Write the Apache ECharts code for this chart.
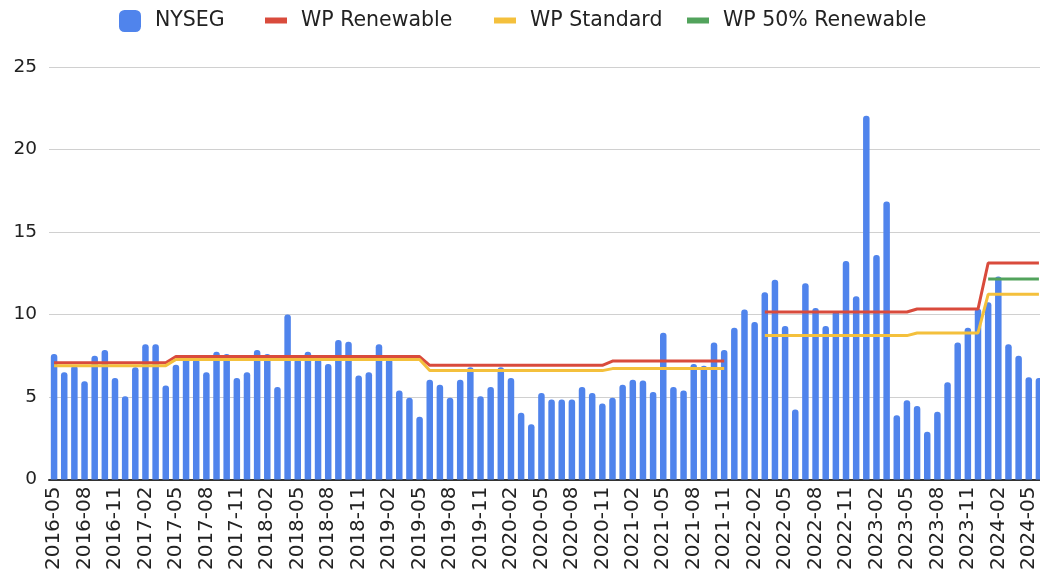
<!DOCTYPE html>
<html>
<head>
<meta charset="utf-8">
<script src="https://cdn.jsdelivr.net/npm/echarts@6/dist/echarts.min.js"></script>
<style>
html,body{margin:0;padding:0;background:#fff;}
#chart{width:1040px;height:574px;}
</style>
</head>
<body>
<div id="chart"></div>
<script>
// Categories: monthly, 2016-05 .. 2024-06
const months = [
  '2016-05','2016-06','2016-07','2016-08','2016-09','2016-10','2016-11','2016-12',
  '2017-01','2017-02','2017-03','2017-04','2017-05','2017-06','2017-07','2017-08','2017-09','2017-10','2017-11','2017-12',
  '2018-01','2018-02','2018-03','2018-04','2018-05','2018-06','2018-07','2018-08','2018-09','2018-10','2018-11','2018-12',
  '2019-01','2019-02','2019-03','2019-04','2019-05','2019-06','2019-07','2019-08','2019-09','2019-10','2019-11','2019-12',
  '2020-01','2020-02','2020-03','2020-04','2020-05','2020-06','2020-07','2020-08','2020-09','2020-10','2020-11','2020-12',
  '2021-01','2021-02','2021-03','2021-04','2021-05','2021-06','2021-07','2021-08','2021-09','2021-10','2021-11','2021-12',
  '2022-01','2022-02','2022-03','2022-04','2022-05','2022-06','2022-07','2022-08','2022-09','2022-10','2022-11','2022-12',
  '2023-01','2023-02','2023-03','2023-04','2023-05','2023-06','2023-07','2023-08','2023-09','2023-10','2023-11','2023-12',
  '2024-01','2024-02','2024-03','2024-04','2024-05','2024-06'
];

const nyseg = [
  7.6, 6.5, 6.9, 5.95, 7.5, 7.85, 6.15, 5.05,
  6.8, 8.2, 8.2, 5.7, 6.95, 7.5, 7.3, 6.5, 7.75, 7.6, 6.15, 6.5,
  7.85, 7.6, 5.6, 10.0, 7.3, 7.75, 7.3, 7.0, 8.45, 8.35, 6.3, 6.5,
  8.2, 7.3, 5.4, 4.95, 3.8, 6.05, 5.75, 4.95, 6.05, 6.8, 5.05, 5.6,
  6.8, 6.15, 4.05, 3.35, 5.25, 4.85, 4.85, 4.85, 5.6, 5.25, 4.6, 4.95,
  5.75, 6.05, 6.0, 5.3, 8.9, 5.6, 5.4, 7.0, 6.9, 8.3, 7.85, 9.2,
  10.3, 9.55, 11.35, 12.1, 9.3, 4.25, 11.9, 10.4, 9.3, 10.2, 13.25, 11.1,
  22.05, 13.6, 16.85, 3.9, 4.8, 4.45, 2.9, 4.1, 5.9, 8.3, 9.2, 10.35,
  10.75, 12.3, 8.2, 7.5, 6.2, 6.15
];

const wpRenewable = [
  7.07, 7.07, 7.07, 7.07, 7.07, 7.07, 7.07, 7.07,
  7.07, 7.07, 7.07, 7.07, 7.45, 7.45, 7.45, 7.45, 7.45, 7.45, 7.45, 7.45,
  7.45, 7.45, 7.45, 7.45, 7.45, 7.45, 7.45, 7.45, 7.45, 7.45, 7.45, 7.45,
  7.45, 7.45, 7.45, 7.45, 7.45, 6.92, 6.92, 6.92, 6.92, 6.92, 6.92, 6.92,
  6.92, 6.92, 6.92, 6.92, 6.92, 6.92, 6.92, 6.92, 6.92, 6.92, 6.92, 7.18,
  7.18, 7.18, 7.18, 7.18, 7.18, 7.18, 7.18, 7.18, 7.18, 7.18, 7.18, null,
  null, null, 10.15, 10.15, 10.15, 10.15, 10.15, 10.15, 10.15, 10.15, 10.15, 10.15,
  10.15, 10.15, 10.15, 10.15, 10.15, 10.33, 10.33, 10.33, 10.33, 10.33, 10.33, 10.33,
  13.12, 13.12, 13.12, 13.12, 13.12, 13.12
];

const wpStandard = [
  6.9, 6.9, 6.9, 6.9, 6.9, 6.9, 6.9, 6.9,
  6.9, 6.9, 6.9, 6.9, 7.27, 7.27, 7.27, 7.27, 7.27, 7.27, 7.27, 7.27,
  7.27, 7.27, 7.27, 7.27, 7.27, 7.27, 7.27, 7.27, 7.27, 7.27, 7.27, 7.27,
  7.27, 7.27, 7.27, 7.27, 7.27, 6.6, 6.6, 6.6, 6.6, 6.6, 6.6, 6.6,
  6.6, 6.6, 6.6, 6.6, 6.6, 6.6, 6.6, 6.6, 6.6, 6.6, 6.6, 6.72,
  6.72, 6.72, 6.72, 6.72, 6.72, 6.72, 6.72, 6.72, 6.72, 6.72, 6.72, null,
  null, null, 8.72, 8.72, 8.72, 8.72, 8.72, 8.72, 8.72, 8.72, 8.72, 8.72,
  8.72, 8.72, 8.72, 8.72, 8.72, 8.88, 8.88, 8.88, 8.88, 8.88, 8.88, 8.88,
  11.22, 11.22, 11.22, 11.22, 11.22, 11.22
];

const wp50Renewable = [
  null, null, null, null, null, null, null, null,
  null, null, null, null, null, null, null, null, null, null, null, null,
  null, null, null, null, null, null, null, null, null, null, null, null,
  null, null, null, null, null, null, null, null, null, null, null, null,
  null, null, null, null, null, null, null, null, null, null, null, null,
  null, null, null, null, null, null, null, null, null, null, null, null,
  null, null, null, null, null, null, null, null, null, null, null, null,
  null, null, null, null, null, null, null, null, null, null, null, null,
  12.15, 12.15, 12.15, 12.15, 12.15, 12.15
];

const yTicks = [0, 5, 10, 15, 20, 25];

const FONT = 'DejaVu Sans';
const TXT = '#222';
const C_BLUE = '#5084ec', C_RED = '#d94b3c', C_YEL = '#f4c03c', C_GRN = '#52a35c';

const chart = echarts.init(document.getElementById('chart'), null, {renderer: 'canvas'});

function lg(name, left, icon, h) {
  return {
    data: [name], left: left, top: 10, padding: 0,
    itemWidth: 22, itemHeight: h, icon: icon,
    textStyle: {fontFamily: FONT, fontSize: 20.5, color: TXT, padding: [2, 0, 0, 9]}
  };
}

chart.setOption({
  animation: false,
  backgroundColor: '#fff',
  legend: [
    lg('NYSEG', 119, 'roundRect', 22),
    lg('WP Renewable', 265, 'rect', 6),
    lg('WP Standard', 494, 'rect', 6),
    lg('WP 50% Renewable', 687, 'rect', 6)
  ],
  grid: {left: 49, top: 67, width: 995, height: 412.5, containLabel: false, outerBoundsMode: 'none'},
  xAxis: {
    type: 'category',
    data: months,
    boundaryGap: true,
    axisLine: {show: true, lineStyle: {color: '#333', width: 2}},
    axisTick: {show: false},
    axisLabel: {
      interval: 2, rotate: 90, margin: 7,
      fontFamily: FONT, fontSize: 20, color: TXT
    }
  },
  yAxis: {
    type: 'value',
    min: yTicks[0], max: yTicks[yTicks.length - 1], interval: 5,
    axisLine: {show: false},
    axisTick: {show: false},
    splitLine: {lineStyle: {color: '#d0d0d0', width: 1}},
    axisLabel: {margin: 12, fontFamily: FONT, fontSize: 18.5, color: TXT}
  },
  series: [
    {
      name: 'NYSEG', type: 'bar', data: nyseg,
      barWidth: 6.5,
      itemStyle: {color: C_BLUE, borderRadius: [3, 3, 0, 0]}
    },
    {
      name: 'WP Renewable', type: 'line', data: wpRenewable,
      showSymbol: false, symbol: 'none', connectNulls: false,
      lineStyle: {color: C_RED, width: 3}, itemStyle: {color: C_RED}
    },
    {
      name: 'WP Standard', type: 'line', data: wpStandard,
      showSymbol: false, symbol: 'none', connectNulls: false,
      lineStyle: {color: C_YEL, width: 3}, itemStyle: {color: C_YEL}
    },
    {
      name: 'WP 50% Renewable', type: 'line', data: wp50Renewable,
      showSymbol: false, symbol: 'none', connectNulls: false,
      lineStyle: {color: C_GRN, width: 3}, itemStyle: {color: C_GRN}
    }
  ]
});
</script>
</body>
</html>
